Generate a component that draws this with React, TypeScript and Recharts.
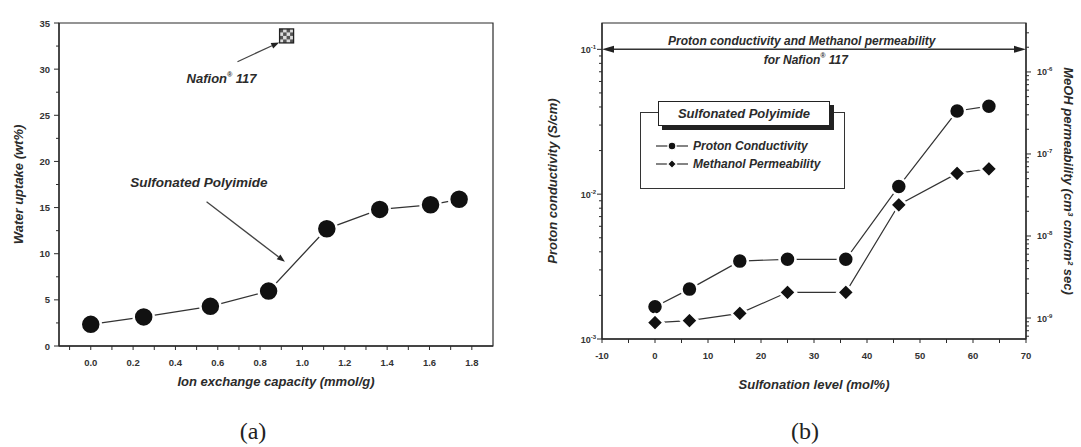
import React from 'react';
import {
  ComposedChart,
  Line,
  Scatter,
  XAxis,
  YAxis,
  Label,
  Legend,
  ReferenceLine,
  ReferenceDot,
  ReferenceArea,
} from 'recharts';

// ---- panel (a): water uptake vs IEC ----
const iecValues = [0.0, 0.25, 0.565, 0.84, 1.115, 1.365, 1.605, 1.74];
const waterUptake = [2.35, 3.15, 4.3, 5.95, 12.7, 14.8, 15.3, 15.9];
const nafionIec = [0.925];
const nafionUptake = [33.6];
const iecTicks = [-0.1, 0, 0.1, 0.2, 0.3, 0.4, 0.5, 0.6, 0.7, 0.8, 0.9, 1.0, 1.1, 1.2, 1.3, 1.4, 1.5, 1.6, 1.7, 1.8];
const uptakeTicks = [0, 2.5, 5, 7.5, 10, 12.5, 15, 17.5, 20, 22.5, 25, 27.5, 30, 32.5, 35];

// ---- panel (b): conductivity / permeability vs sulfonation ----
const sulfonationLevel = [0, 6.5, 16, 25, 36, 46, 57, 63];
const protonConductivity = [1.67e-3, 2.21e-3, 3.45e-3, 3.55e-3, 3.55e-3, 1.13e-2, 3.75e-2, 4.05e-2];
const methanolPermeability = [8.8e-10, 9.3e-10, 1.14e-9, 2.06e-9, 2.06e-9, 2.4e-8, 5.8e-8, 6.6e-8];
const nafionConductivity = 0.1;
const sulfonationTicks = [-10, -5, 0, 5, 10, 15, 20, 25, 30, 35, 40, 45, 50, 55, 60, 65, 70];
const conductivityDecades = [1e-3, 1e-2, 1e-1];
const permeabilityDecades = [1e-10, 1e-9, 1e-8, 1e-7, 1e-6];
const minorSteps = [1, 2, 3, 4, 5, 6, 7, 8, 9];
const legendOrder = ['circle', 'diamond'];

const ink = '#2b2b2b';
const sans = "'Liberation Sans', Arial, sans-serif";
const tickFont = { fontFamily: sans, fontSize: 9.5, fontWeight: 700, fill: '#333' };
const titleFont = { fontFamily: sans, fontSize: 13, fontWeight: 700, fontStyle: 'italic' as const, fill: ink };

const uptakeDomain: [number, number] = [0, 35];
const iecDomain: [number, number] = [-0.15, 1.9];
const condDomain: [number, number] = [1e-3, 0.152];
const permDomain: [number, number] = [5.55e-10, 3.95e-6];

const logTicks = (decades: number[], [lo, hi]: [number, number]) =>
  decades.flatMap((d) => minorSteps.map((m) => d * m)).filter((v) => v >= lo * 0.999 && v <= hi);

const isDecade = (v: number) => Math.abs(Math.log10(v) - Math.round(Math.log10(v))) < 1e-6;

const uptakeRows = iecValues.map((x, i) => ({ iec: x, uptake: waterUptake[i] }));
const nafionRows = nafionIec.map((x, i) => ({ iec: x, nafion: nafionUptake[i] }));
const spiRows = sulfonationLevel.map((s, i) => ({
  level: s,
  pc: protonConductivity[i],
  mp: methanolPermeability[i],
}));

// ---- ticks ----
const bottomTick = (major: (v: number) => boolean, fmt: (v: number) => string) => (p: any) => {
  const v = p.payload.value;
  return (
    <g>
      <line x1={p.x} y1={p.y} x2={p.x} y2={p.y + 4} stroke={ink} />
      {major(v) && (
        <text x={p.x} y={p.y + 20} textAnchor="middle" {...tickFont}>
          {fmt(v)}
        </text>
      )}
    </g>
  );
};

const leftLinearTick = (p: any) => {
  const v = p.payload.value;
  const major = v % 5 === 0;
  return (
    <g>
      <line x1={p.x} y1={p.y} x2={p.x - (major ? 5 : 3)} y2={p.y} stroke={ink} />
      {major && (
        <text x={p.x - 9} y={p.y + 3.5} textAnchor="end" {...tickFont}>
          {v}
        </text>
      )}
    </g>
  );
};

const PowerLabel = ({ x, y, v, anchor }: { x: number; y: number; v: number; anchor: 'start' | 'end' }) => (
  <text x={x} y={y + 3.5} textAnchor={anchor} {...tickFont} fontSize={9}>
    10
    <tspan dy={-4} fontSize={6}>
      {String(Math.round(Math.log10(v)))}
    </tspan>
  </text>
);

const leftLogTick = (p: any) => {
  const v = p.payload.value;
  const major = isDecade(v);
  return (
    <g>
      <line x1={p.x} y1={p.y} x2={p.x - (major ? 5 : 3)} y2={p.y} stroke={ink} />
      {major && <PowerLabel x={p.x - 6} y={p.y} v={v} anchor="end" />}
    </g>
  );
};

const rightLogTick = (p: any) => {
  const v = p.payload.value;
  const major = isDecade(v);
  return (
    <g>
      <line x1={p.x} y1={p.y} x2={p.x + (major ? 5 : 3)} y2={p.y} stroke={ink} />
      {major && <PowerLabel x={p.x + 11} y={p.y} v={v} anchor="start" />}
    </g>
  );
};

// ---- axis titles ----
const yTitle = (text: React.ReactNode, x: number, angle: number) => (p: any) => {
  const vb = p.viewBox;
  const cy = vb.y + vb.height / 2;
  return (
    <text x={x} y={cy} transform={`rotate(${angle} ${x} ${cy})`} textAnchor="middle" dominantBaseline="central" {...titleFont}>
      {text}
    </text>
  );
};

const xTitle = (text: string, dy: number) => (p: any) => {
  const vb = p.viewBox;
  return (
    <text x={vb.x + vb.width / 2} y={vb.y + dy} textAnchor="middle" {...titleFont}>
      {text}
    </text>
  );
};

// ---- marks & annotations ----
const Arrow = (p: any) => {
  const { x1, y1, x2, y2 } = p;
  const a = Math.atan2(y2 - y1, x2 - x1);
  const L = 8;
  const W = 3;
  const bx = x2 - L * Math.cos(a);
  const by = y2 - L * Math.sin(a);
  const px = -Math.sin(a) * W;
  const py = Math.cos(a) * W;
  return (
    <g>
      <line x1={x1} y1={y1} x2={bx} y2={by} stroke="#444" strokeWidth={1.3} />
      <polygon points={`${x2},${y2} ${bx + px},${by + py} ${bx - px},${by - py}`} fill="#222" />
    </g>
  );
};

const DoubleArrow = (p: any) => {
  const { x1, y1, x2, y2 } = p;
  const L = 12;
  const W = 3.5;
  return (
    <g>
      <line x1={x1 + L} y1={y1} x2={x2 - L} y2={y2} stroke="#333" strokeWidth={1.5} />
      <polygon points={`${x1},${y1} ${x1 + L},${y1 - W} ${x1 + L},${y1 + W}`} fill="#222" />
      <polygon points={`${x2},${y2} ${x2 - L},${y2 - W} ${x2 - L},${y2 + W}`} fill="#222" />
    </g>
  );
};

const NafionMarker = (p: any) => {
  const s = 14;
  const c = s / 4;
  const cells = [0, 1, 2, 3].flatMap((i) => [0, 1, 2, 3].map((j) => ({ i, j })));
  return (
    <g>
      <rect x={p.cx - s / 2} y={p.cy - s / 2} width={s} height={s} fill="#ddd" />
      {cells
        .filter(({ i, j }) => (i + j) % 2 === 0)
        .map(({ i, j }) => (
          <rect key={`${i}-${j}`} x={p.cx - s / 2 + i * c} y={p.cy - s / 2 + j * c} width={c} height={c} fill="#555" />
        ))}
      <rect x={p.cx - s / 2} y={p.cy - s / 2} width={s} height={s} fill="none" stroke="#222" strokeWidth={1.3} />
    </g>
  );
};

const nafionText = (p: any) => (
  <text x={p.cx} y={p.cy} textAnchor="middle" {...titleFont} fontSize={13}>
    Nafion
    <tspan dy={-6} fontSize={7}>®</tspan>
    <tspan dy={6}>{'  117'}</tspan>
  </text>
);

const spiText = (p: any) => (
  <text x={p.cx} y={p.cy} textAnchor="middle" {...titleFont} fontSize={13.5}>
    Sulfonated Polyimide
  </text>
);

const nafionCaption = (p: any) => (
  <g>
    <text x={p.cx} y={p.cy - 4} textAnchor="middle" {...titleFont} fontSize={12}>
      Proton conductivity and Methanol permeability
    </text>
    <text x={p.cx + 4} y={p.cy + 15} textAnchor="middle" {...titleFont} fontSize={12}>
      for Nafion
      <tspan dy={-6} fontSize={7}>®</tspan>
      <tspan dy={6}>{' 117'}</tspan>
    </text>
  </g>
);

const CircleDot = (r: number) => (p: any) =>
  p.cx == null ? <g /> : <circle cx={p.cx} cy={p.cy} r={r} fill="#111" stroke="#fff" strokeWidth={2.5} />;

const DiamondDot = (p: any) => {
  if (p.cx == null) return <g />;
  const h = 8.5;
  return (
    <polygon
      points={`${p.cx},${p.cy - h} ${p.cx + h},${p.cy} ${p.cx},${p.cy + h} ${p.cx - h},${p.cy}`}
      fill="#111"
      stroke="#fff"
      strokeWidth={2.5}
    />
  );
};

const LegendSymbol = ({ type }: { type: string }) => (
  <svg width={36} height={12} style={{ display: 'block' }}>
    <line x1={2} y1={6} x2={34} y2={6} stroke="#333" strokeWidth={1.2} />
    {type === 'diamond' ? (
      <polygon points="18,1.5 22.5,6 18,10.5 13.5,6" fill="#111" stroke="#fff" strokeWidth={1.5} />
    ) : (
      <circle cx={18} cy={6} r={4} fill="#111" stroke="#fff" strokeWidth={1.5} />
    )}
  </svg>
);

const SeriesLegend = (p: any) => {
  const items = [...(p.payload || [])].sort((a: any, b: any) => legendOrder.indexOf(a.type) - legendOrder.indexOf(b.type));
  return (
    <div style={{ position: 'relative', width: 205, height: 88, fontFamily: sans }}>
      <div
        style={{
          position: 'absolute',
          left: 0,
          top: 11,
          width: 203,
          height: 75,
          border: '1px solid #333',
          background: '#fff',
        }}
      />
      <div
        style={{
          position: 'absolute',
          left: 18,
          top: 0,
          width: 170,
          height: 23,
          border: '1px solid #222',
          background: '#fff',
          boxShadow: '4px 4px 0 #222',
          textAlign: 'center',
          lineHeight: '23px',
          fontSize: 13,
          fontWeight: 700,
          fontStyle: 'italic',
          color: ink,
        }}
      >
        Sulfonated Polyimide
      </div>
      {items.map((e: any, i: number) => (
        <div
          key={e.value}
          style={{
            position: 'absolute',
            left: 14,
            top: 38 + i * 18,
            display: 'flex',
            alignItems: 'center',
            gap: 3,
            fontSize: 12,
            fontWeight: 700,
            fontStyle: 'italic',
            color: ink,
          }}
        >
          <LegendSymbol type={e.type} />
          <span>{e.value}</span>
        </div>
      ))}
    </div>
  );
};

function WaterUptakeChart() {
  return (
    <ComposedChart width={500} height={400} data={uptakeRows} margin={{ top: 23, right: 7, bottom: 0, left: 0 }}>
      <XAxis
        type="number"
        dataKey="iec"
        domain={iecDomain}
        allowDataOverflow
        ticks={iecTicks}
        interval={0}
        height={54}
        tickSize={0}
        tickMargin={0}
        axisLine={{ stroke: ink, strokeWidth: 1.3 }}
        tick={bottomTick(
          (v) => v >= 0 && Math.round(v * 10) % 2 === 0,
          (v) => v.toFixed(1),
        )}
      >
        <Label content={xTitle('Ion exchange capacity (mmol/g)', 40)} />
      </XAxis>
      <YAxis
        type="number"
        domain={uptakeDomain}
        allowDataOverflow
        ticks={uptakeTicks}
        interval={0}
        width={59}
        tickSize={0}
        tickMargin={0}
        axisLine={{ stroke: ink, strokeWidth: 1.3 }}
        tick={leftLinearTick}
      >
        <Label content={yTitle('Water uptake (wt%)', 18, -90)} />
      </YAxis>
      <ReferenceArea x1={iecDomain[0]} x2={iecDomain[1]} y1={uptakeDomain[0]} y2={uptakeDomain[1]} fill="none" stroke={ink} strokeWidth={1.2} />
      <Line
        type="linear"
        dataKey="uptake"
        stroke="#333"
        strokeWidth={1.3}
        dot={CircleDot(10)}
        activeDot={false}
        isAnimationActive={false}
      />
      <Scatter data={nafionRows} dataKey="nafion" shape={NafionMarker} isAnimationActive={false} />
      <ReferenceDot x={0.618} y={28.5} r={0} shape={nafionText} />
      <ReferenceLine segment={[{ x: 0.693, y: 30.8 }, { x: 0.89, y: 32.9 }]} shape={Arrow} />
      <ReferenceDot x={0.511} y={17.26} r={0} shape={spiText} />
      <ReferenceLine segment={[{ x: 0.547, y: 15.63 }, { x: 0.917, y: 9.13 }]} shape={Arrow} />
    </ComposedChart>
  );
}

function ConductivityChart() {
  return (
    <ComposedChart width={551} height={400} data={spiRows} margin={{ top: 23, right: 0, bottom: 0, left: 0 }}>
      <XAxis
        type="number"
        dataKey="level"
        domain={[-10, 70]}
        allowDataOverflow
        ticks={sulfonationTicks}
        interval={0}
        height={61}
        tickSize={0}
        tickMargin={0}
        axisLine={{ stroke: ink, strokeWidth: 1.3 }}
        tick={bottomTick((v) => v % 10 === 0, (v) => String(v))}
      >
        <Label content={xTitle('Sulfonation level (mol%)', 50)} />
      </XAxis>
      <YAxis
        yAxisId="left"
        type="number"
        scale="log"
        domain={condDomain}
        allowDataOverflow
        ticks={logTicks(conductivityDecades, condDomain)}
        interval={0}
        width={72}
        tickSize={0}
        tickMargin={0}
        axisLine={{ stroke: ink, strokeWidth: 1.3 }}
        tick={leftLogTick}
      >
        <Label content={yTitle('Proton conductivity (S/cm)', 22, -90)} />
      </YAxis>
      <YAxis
        yAxisId="right"
        orientation="right"
        type="number"
        scale="log"
        domain={permDomain}
        allowDataOverflow
        ticks={logTicks(permeabilityDecades, permDomain)}
        interval={0}
        width={55}
        tickSize={0}
        tickMargin={0}
        axisLine={{ stroke: ink, strokeWidth: 1.3 }}
        tick={rightLogTick}
      >
        <Label content={yTitle('MeOH permeability (cm³ cm/cm² sec)', 538, 90)} />
      </YAxis>
      <ReferenceArea
        yAxisId="left"
        x1={-10}
        x2={70}
        y1={condDomain[0]}
        y2={condDomain[1]}
        fill="none"
        stroke={ink}
        strokeWidth={1.2}
      />
      <ReferenceLine yAxisId="left" y={nafionConductivity} shape={DoubleArrow} />
      <ReferenceDot yAxisId="left" x={27.7} y={nafionConductivity} r={0} shape={nafionCaption} />
      <Line
        yAxisId="left"
        type="linear"
        dataKey="pc"
        name="Proton Conductivity"
        legendType="circle"
        stroke="#333"
        strokeWidth={1.2}
        dot={CircleDot(8)}
        activeDot={false}
        isAnimationActive={false}
      />
      <Line
        yAxisId="right"
        type="linear"
        dataKey="mp"
        name="Methanol Permeability"
        legendType="diamond"
        stroke="#333"
        strokeWidth={1.2}
        dot={DiamondDot}
        activeDot={false}
        isAnimationActive={false}
      />
      <Legend
        layout="vertical"
        align="center"
        verticalAlign="middle"
        wrapperStyle={{ left: 110, top: 101, width: 205, height: 88 }}
        content={SeriesLegend}
      />
    </ComposedChart>
  );
}

export default function App() {
  const caption = { position: 'absolute' as const, top: 418, width: 60, textAlign: 'center' as const, fontFamily: "'Liberation Serif', serif", fontSize: 24, color: '#222' };
  return (
    <div style={{ position: 'absolute', left: 0, top: 0, width: 1081, height: 447, background: '#fff', overflow: 'hidden' }}>
      <div style={{ position: 'absolute', left: 0, top: 0 }}>
        <WaterUptakeChart />
      </div>
      <div style={{ position: 'absolute', left: 530, top: 0 }}>
        <ConductivityChart />
      </div>
      <div style={{ ...caption, left: 223 }}>(a)</div>
      <div style={{ ...caption, left: 775 }}>(b)</div>
    </div>
  );
}
